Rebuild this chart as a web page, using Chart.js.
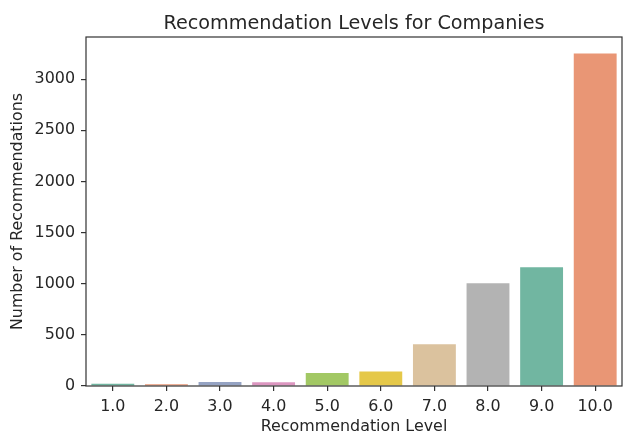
<!DOCTYPE html>
<html>
<head>
<meta charset="utf-8">
<title>Recommendation Levels for Companies</title>
<script src="https://cdn.jsdelivr.net/npm/chart.js@4.4.1/dist/chart.umd.min.js"></script>
<style>
  html, body { margin: 0; padding: 0; background: #fff; }
  #wrap { width: 634px; height: 444px; }
</style>
</head>
<body>
<div id="wrap"><canvas id="chart" width="634" height="444"></canvas></div>
<script>
// data
const levels = ['1.0', '2.0', '3.0', '4.0', '5.0', '6.0', '7.0', '8.0', '9.0', '10.0'];
const counts = [22, 17, 38, 36, 128, 143, 408, 1005, 1162, 3250];
const yTicks = [0, 500, 1000, 1500, 2000, 2500, 3000];
// Set2 palette, desaturated like seaborn does
const barColors = ['#71b6a1', '#e99675', '#95a3c3', '#dc96c0', '#a2c864',
                   '#e5c849', '#dbc29e', '#b3b3b3', '#71b6a1', '#e99675'];

const chartTitle = 'Recommendation Levels for Companies';
const ink = '#262626';
const spine = '#333333';
const font = 'DejaVu Sans';
const labelSize = 15.9;

// box round the plot and the title centred over it, like matplotlib
const frame = {
    id: 'frame',
    afterDraw(chart) {
        const a = chart.chartArea;
        const ctx = chart.ctx;
        ctx.save();
        ctx.strokeStyle = spine;
        ctx.lineWidth = 1.2;
        ctx.strokeRect(a.left, a.top, a.right - a.left, a.bottom - a.top);
        ctx.fillStyle = ink;
        ctx.font = '19.2px "' + font + '"';
        ctx.textAlign = 'center';
        ctx.textBaseline = 'alphabetic';
        ctx.fillText(chartTitle, (a.left + a.right) / 2, 28.5);
        ctx.restore();
    }
};

new Chart(document.getElementById('chart'), {
    type: 'bar',
    data: {
        labels: levels,
        datasets: [{
            data: counts,
            backgroundColor: barColors,
            borderWidth: 0,
            categoryPercentage: 1.0,
            barPercentage: 0.8
        }]
    },
    options: {
        responsive: false,
        animation: false,
        layout: { padding: { top: 37, right: 12, bottom: 0, left: 0 } },
        plugins: {
            legend: { display: false },
            tooltip: { enabled: false },
            title: { display: false }
        },
        scales: {
            x: {
                afterFit(scale) { scale.height = 58; },
                border: { display: false },
                grid: {
                    offset: false,
                    drawOnChartArea: false,
                    drawTicks: true,
                    tickLength: 5,
                    color: spine,
                    lineWidth: 1.2
                },
                ticks: { color: ink, padding: 6, maxRotation: 0, font: { family: font, size: labelSize } },
                title: {
                    display: true,
                    text: 'Recommendation Level',
                    color: ink,
                    font: { family: font, size: labelSize },
                    padding: { top: 0, bottom: 8 }
                }
            },
            y: {
                min: 0,
                max: 3412.5,
                afterFit(scale) { scale.width = 86; },
                afterBuildTicks(scale) { scale.ticks = yTicks.map(v => ({ value: v })); },
                border: { display: false },
                grid: {
                    drawOnChartArea: false,
                    drawTicks: true,
                    tickLength: 5,
                    color: spine,
                    lineWidth: 1.2
                },
                ticks: {
                    color: ink,
                    padding: 6,
                    font: { family: font, size: labelSize },
                    callback: v => String(v)
                },
                title: {
                    display: true,
                    text: 'Number of Recommendations',
                    color: ink,
                    font: { family: font, size: labelSize },
                    padding: { top: 8, bottom: 0 }
                }
            }
        }
    },
    plugins: [frame]
});
</script>
</body>
</html>
